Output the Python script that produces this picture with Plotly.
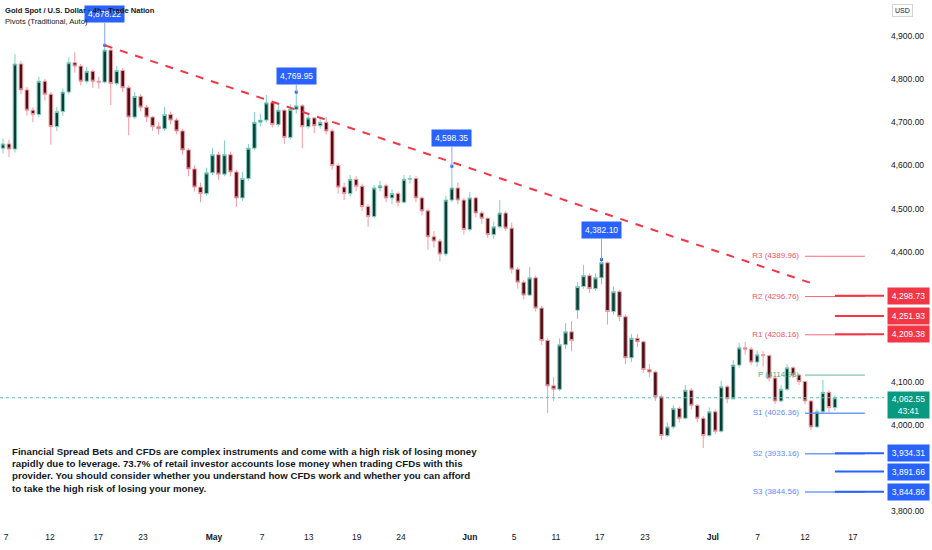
import plotly.graph_objects as go

# 4h-style candles (one entry per bar)
opens = [4640, 4650, 4638, 4835, 4775, 4728, 4718, 4795, 4765, 4690,
         4725, 4770, 4838, 4830, 4795, 4818, 4795, 4793, 4867, 4790,
         4820, 4780, 4712, 4760, 4735, 4712, 4690, 4685, 4718, 4705,
         4680, 4636, 4592, 4550, 4535, 4583, 4625, 4580, 4625, 4585,
         4525, 4570, 4640, 4700, 4705, 4745, 4695, 4728, 4665, 4730,
         4738, 4690, 4710, 4692, 4700, 4680, 4600, 4550, 4535, 4568,
         4552, 4505, 4482, 4548, 4553, 4525, 4535, 4515, 4568, 4570,
         4525, 4495, 4435, 4425, 4395, 4520, 4548, 4520, 4452, 4525,
         4490, 4478, 4440, 4458, 4490, 4455, 4360, 4330, 4300, 4340,
         4270, 4195, 4090, 4082, 4185, 4215, 4265, 4320, 4345, 4315,
         4340, 4375, 4262, 4308, 4250, 4155, 4200, 4192, 4128, 4122,
         4065, 3975, 3995, 4038, 4015, 4080, 4045, 4015, 3975, 4030,
         3985, 4088, 4060, 4138, 4178, 4175, 4145, 4162, 4160, 4108,
         4055, 4082, 4132, 4115, 4100, 4055, 3995, 4030, 4075, 4040]
highs = [4662, 4660, 4858, 4842, 4782, 4735, 4805, 4800, 4770, 4735,
         4778, 4850, 4862, 4835, 4828, 4822, 4805, 4878.22, 4870, 4830,
         4825, 4785, 4770, 4765, 4740, 4715, 4700, 4735, 4725, 4710,
         4685, 4640, 4600, 4560, 4595, 4640, 4632, 4658, 4632, 4590,
         4585, 4650, 4724, 4720, 4763, 4750, 4740, 4730, 4742, 4769.95,
         4742, 4718, 4712, 4712, 4712, 4685, 4605, 4560, 4578, 4575,
         4558, 4510, 4555, 4565, 4558, 4545, 4540, 4578, 4578, 4575,
         4528, 4500, 4448, 4430, 4530, 4598.35, 4560, 4525, 4539, 4528,
         4495, 4480, 4470, 4520, 4495, 4468, 4365, 4335, 4365, 4345,
         4275, 4200, 4110, 4200, 4235, 4240, 4330, 4370, 4350, 4350,
         4382.10, 4378, 4320, 4312, 4255, 4210, 4210, 4195, 4140, 4125,
         4070, 4005, 4045, 4042, 4092, 4085, 4048, 4020, 4040, 4035,
         4102, 4092, 4150, 4189, 4192, 4180, 4172, 4170, 4162, 4112,
         4092, 4140, 4135, 4118, 4102, 4058, 4036, 4104, 4080, 4068]
lows = [4628, 4620, 4630, 4765, 4715, 4700, 4712, 4750, 4648, 4680,
        4715, 4765, 4815, 4785, 4790, 4780, 4778, 4790, 4740, 4785,
        4770, 4670, 4708, 4725, 4700, 4680, 4672, 4680, 4695, 4672,
        4625, 4575, 4540, 4515, 4530, 4578, 4567, 4575, 4575, 4504,
        4518, 4565, 4635, 4690, 4700, 4688, 4690, 4650, 4660, 4720,
        4640, 4685, 4675, 4685, 4672, 4590, 4535, 4520, 4528, 4540,
        4495, 4458, 4478, 4540, 4515, 4510, 4505, 4512, 4558, 4515,
        4485, 4405, 4410, 4378, 4390, 4515, 4510, 4440, 4448, 4480,
        4465, 4432, 4430, 4455, 4448, 4350, 4315, 4290, 4298, 4262,
        4185, 4027, 4055, 4078, 4175, 4170, 4245, 4315, 4305, 4310,
        4325, 4232, 4255, 4240, 4140, 4145, 4180, 4120, 4110, 4055,
        3965, 3972, 3990, 4005, 4012, 4035, 4005, 3946, 3972, 3978,
        3982, 4050, 4058, 4132, 4162, 4138, 4135, 4135, 4100, 4048,
        4052, 4078, 4108, 4092, 4048, 3988, 3992, 4025, 4028, 4032]
closes = [4650, 4638, 4835, 4775, 4728, 4718, 4795, 4765, 4690, 4725,
          4770, 4838, 4830, 4795, 4818, 4795, 4793, 4867, 4790, 4820,
          4780, 4712, 4760, 4735, 4712, 4690, 4685, 4718, 4705, 4680,
          4636, 4592, 4550, 4535, 4583, 4625, 4580, 4625, 4585, 4525,
          4570, 4640, 4700, 4705, 4745, 4695, 4728, 4665, 4730, 4738,
          4690, 4710, 4692, 4700, 4680, 4600, 4550, 4535, 4568, 4552,
          4505, 4482, 4548, 4553, 4525, 4535, 4515, 4568, 4570, 4525,
          4495, 4435, 4425, 4395, 4520, 4548, 4520, 4452, 4525, 4490,
          4478, 4440, 4458, 4490, 4455, 4360, 4330, 4300, 4340, 4270,
          4195, 4090, 4082, 4185, 4215, 4195, 4320, 4345, 4315, 4340,
          4375, 4262, 4308, 4250, 4155, 4200, 4192, 4128, 4122, 4065,
          3975, 3995, 4038, 4015, 4080, 4045, 4015, 3975, 4030, 3985,
          4088, 4060, 4138, 4178, 4175, 4145, 4162, 4160, 4108, 4055,
          4082, 4132, 4115, 4100, 4055, 3995, 4030, 4075, 4040, 4062.55]

# time axis labels (bar positions of each label)
tick_bars = [0.5, 7.85, 15.9, 23.4, 35.25, 43.3, 51.1, 59.1, 66.5, 78.0,
             85.4, 92.4, 99.7, 107.25, 118.6, 126.1, 134.0, 142.0]
tick_text = ["7", "12", "17", "23", "<b>May</b>", "7", "13", "19", "24", "<b>Jun</b>",
             "5", "11", "17", "23", "<b>Jul</b>", "7", "12", "17"]
# 4,200 and 4,300 sit under the level boxes, so they are not shown
price_ticks = [3800, 3900, 4000, 4100, 4400, 4500, 4600, 4700, 4800, 4900]

# weekly pivots (Traditional)
pivot_names = ["R3", "R2", "R1", "P", "S1", "S2", "S3"]
pivot_levels = [4389.96, 4296.76, 4208.16, 4114.96, 4026.36, 3933.16, 3844.56]
pivot_start = 134
pivot_len = 10

# pivot high callouts
swing_highs = [4878.22, 4769.95, 4598.35, 4382.10]

# horizontal levels shown on the price scale
red_levels = [4298.73, 4251.93, 4209.38]
blue_levels = [3934.31, 3891.66, 3844.86]
last_price = 4062.55
countdown = "43:41"

# falling trendline end point
trend_end_bar = 135
trend_end_price = 4328

disclaimer = [
    "Financial Spread Bets and CFDs are complex instruments and come with a high risk of losing money",
    "rapidly due to leverage. 73.7% of retail investor accounts lose money when trading CFDs with this",
    "provider. You should consider whether you understand how CFDs work and whether you can afford",
    "to take the high risk of losing your money.",
]

FONT = "Liberation Sans, Arial, sans-serif"
TXT = "#131722"
RED = "#f23645"
BLUE = "#2962ff"
TEAL = "#089981"
X_MAX = 147.2
PLOT_H = 525

bars = list(range(len(closes)))
last_bar = bars[-1]


def py(px):
    return 1 - px / PLOT_H


def pivot_color(name):
    if name.startswith("R"):
        return "#f7525f"
    if name.startswith("S"):
        return "#5b8cff"
    return "#4caf7d"


fig = go.Figure()

# pivot labels sit under the candles
fig.add_trace(go.Scatter(
    x=[pivot_start - 1] * len(pivot_levels), y=pivot_levels,
    mode="text", textposition="middle left",
    text=[f"{n} ({v:.2f})" for n, v in zip(pivot_names, pivot_levels)],
    textfont=dict(family=FONT, size=8, color=[pivot_color(n) for n in pivot_names]),
    hoverinfo="skip", showlegend=False,
))

fig.add_trace(go.Candlestick(
    x=bars, open=opens, high=highs, low=lows, close=closes,
    increasing=dict(line=dict(color="#7fcfc1", width=1), fillcolor="#0f3b33"),
    decreasing=dict(line=dict(color="#f59aa2", width=1), fillcolor="#4a1015"),
    whiskerwidth=0, showlegend=False, hoverinfo="skip",
))

# little dots on the swing highs
hi_bars = [highs.index(v) for v in swing_highs]
fig.add_trace(go.Scatter(
    x=hi_bars, y=swing_highs, mode="markers",
    marker=dict(color=BLUE, size=3, symbol="square"),
    hoverinfo="skip", showlegend=False,
))

# trendline from the top
peak_bar = highs.index(max(highs))
fig.add_shape(type="line", x0=peak_bar, y0=max(highs), x1=trend_end_bar, y1=trend_end_price,
              line=dict(color=RED, width=2, dash="8px,8px"))

# pivot lines
for n, v in zip(pivot_names, pivot_levels):
    fig.add_shape(type="line", x0=pivot_start, x1=pivot_start + pivot_len, y0=v, y1=v,
                  line=dict(color=pivot_color(n), width=1.5 if n.startswith("S") else 1),
                  opacity=0.85)

# thick levels to the price scale
for v in red_levels:
    fig.add_shape(type="line", x0=last_bar, x1=X_MAX, y0=v, y1=v, line=dict(color=RED, width=2))
for v in blue_levels:
    fig.add_shape(type="line", x0=last_bar, x1=X_MAX, y0=v, y1=v, line=dict(color=BLUE, width=2))

# last price dotted line
fig.add_shape(type="line", xref="paper", x0=0, x1=1, y0=last_price, y1=last_price,
              line=dict(color="#5fbfae", width=1, dash="dot"))

annotations = []

# swing high callouts
for b, v, off in zip(hi_bars, swing_highs, [-31, -16, -28, -30]):
    annotations.append(dict(
        x=b, y=v, text=f"{v:,.2f}", showarrow=True, arrowhead=0, arrowwidth=1,
        arrowcolor="#82a6ff", ax=0, ay=off, bgcolor=BLUE, borderpad=3,
        font=dict(family=FONT, size=8.5, color="white"),
    ))

# header
annotations.append(dict(xref="paper", yref="paper", x=0, y=py(10), xshift=3, xanchor="left",
                        yanchor="middle", showarrow=False,
                        text="<b>Gold Spot / U.S. Dollar · 4h · Trade Nation</b>",
                        font=dict(family=FONT, size=7.6, color=TXT)))
annotations.append(dict(xref="paper", yref="paper", x=0, y=py(21), xshift=3, xanchor="left",
                        yanchor="middle", showarrow=False, text="Pivots (Traditional, Auto)",
                        font=dict(family=FONT, size=7.6, color=TXT)))
annotations.append(dict(xref="paper", yref="paper", x=1, y=py(11), xshift=8, xanchor="left",
                        yanchor="middle", showarrow=False, text="USD",
                        bordercolor="#d1d4dc", borderwidth=1, borderpad=2,
                        font=dict(family=FONT, size=7, color=TXT)))

# price scale boxes
for v, c in [(v, RED) for v in red_levels] + [(v, BLUE) for v in blue_levels]:
    annotations.append(dict(xref="paper", yref="y", x=1, y=v, xshift=3, xanchor="left",
                            yanchor="middle", showarrow=False, text=f"{v:,.2f}",
                            bgcolor=c, width=39, height=14, align="center",
                            font=dict(family=FONT, size=8.5, color="white")))
annotations.append(dict(xref="paper", yref="y", x=1, y=last_price, xshift=3, yshift=7,
                        xanchor="left", yanchor="top", showarrow=False,
                        text=f"{last_price:,.2f}<br>{countdown}",
                        bgcolor=TEAL, width=39, height=24, align="center",
                        font=dict(family=FONT, size=8.5, color="white")))

# disclaimer
for k, line in enumerate(disclaimer):
    annotations.append(dict(xref="paper", yref="paper", x=0, y=py(451 + 12.4 * k), xshift=10,
                            xanchor="left", yanchor="middle", showarrow=False,
                            text=f"<b>{line}</b>",
                            font=dict(family=FONT, size=9.7, color=TXT)))

fig.update_layout(
    width=932, height=550,
    margin=dict(l=0, r=48, t=0, b=25),
    paper_bgcolor="white", plot_bgcolor="white",
    font=dict(family=FONT, size=8.5, color=TXT),
    showlegend=False,
    boxgap=0.15,
    annotations=annotations,
    xaxis=dict(range=[-0.5, X_MAX], tickvals=tick_bars, ticktext=tick_text,
               showgrid=False, zeroline=False, showline=False, ticks="",
               rangeslider=dict(visible=False), fixedrange=True,
               ticklabelstandoff=5,
               tickfont=dict(family=FONT, size=8.5, color=TXT)),
    yaxis=dict(side="right", range=[3768, 4983], tickvals=price_ticks, tickformat=",.2f",
               showgrid=False, zeroline=False, showline=False, ticks="",
               ticklabelstandoff=6, fixedrange=True,
               tickfont=dict(family=FONT, size=8.5, color=TXT)),
)

fig.write_html("out.html", config={"displayModeBar": False},
               post_script="document.body.style.margin='0px';")
